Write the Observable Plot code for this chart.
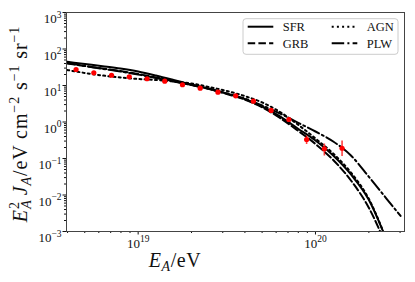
<!DOCTYPE html>
<html><head><meta charset="utf-8">
<script src="https://cdn.jsdelivr.net/npm/d3@7"></script>
<script src="https://cdn.jsdelivr.net/npm/@observablehq/plot@0.6"></script>
<style>html,body{margin:0;padding:0;background:#fff;}</style>
</head><body><div id="chart"></div>
<script>
// ---- measured data (log10 of energy in eV) ----
const dataLogE = [18.65, 18.75, 18.85, 18.95, 19.05, 19.15, 19.25, 19.35, 19.45, 19.55, 19.65, 19.75, 19.85, 19.95, 20.05, 20.15];
const dataJ    = [27.4, 22.3, 19.1, 17.3, 15.3, 13.1, 10.5, 8.43, 6.55, 5.22, 3.72, 2.07, 1.17, 0.332, 0.185, 0.191];
const dataLo   = [27.4, 22.3, 19.1, 17.3, 15.3, 13.1, 10.5, 8.43, 6.55, 5.22, 3.72, 1.98, 1.06, 0.242, 0.117, 0.1135];
const dataHi   = [27.4, 22.3, 19.1, 17.3, 15.3, 13.1, 10.5, 8.43, 6.55, 5.22, 3.72, 2.17, 1.30, 0.413, 0.249, 0.301];

// ---- model curves ----
const sfrLogE = [18.6,18.7,18.8,18.9,19.0,19.1,19.2,19.3,19.4,19.5,19.6,19.7,19.8,19.9,20.0,20.1,20.2,20.3,20.4];
const sfrJ    = [44.6,38.8,33.8,29.2,24.2,18.8,14.2,10.6,8.28,6.04,4.27,2.66,1.42,0.664,0.311,0.121,0.0365,0.0075,0.0006];
const grbLogE = [18.6,18.7,18.8,18.9,19.0,19.1,19.2,19.3,19.4,19.5,19.6,19.7,19.8,19.9,20.0,20.1,20.2,20.3,20.4];
const grbJ    = [40,34.2,29.2,25,20.6,16.6,13.3,10.3,8.0,5.85,4.13,2.5,1.29,0.585,0.25,0.091,0.025,0.00455,0.0004];
const agnLogE = [18.6,18.7,18.8,18.9,19.0,19.1,19.2,19.3,19.4,19.5,19.6,19.7,19.8,19.9,20.0,20.1,20.2,20.3,20.4];
const agnJ    = [26.6,22,18.8,16.6,15.1,14.2,12.9,11.4,9.1,7.07,5.16,3.42,1.88,0.855,0.353,0.137,0.0413,0.008,0.0006];
const plwLogE = [18.6,18.7,18.8,18.9,19.0,19.1,19.2,19.3,19.4,19.5,19.6,19.7,19.8,19.9,20.0,20.1,20.2,20.3,20.4,20.48];
const plwJ    = [41.3,34.2,28.7,24.2,20,16,12.9,10.3,8.0,6.04,4.41,2.83,1.71,0.968,0.549,0.292,0.121,0.0321,0.00801,0.00266];

const seriesNames = ["SFR", "GRB", "AGN", "PLW"];
const seriesDash  = [null, "7.5,3.2", "2,3.2", "12.5,3.2,2,3.2"];

// ---- axis ticks ----
const yMajor = [1e-3, 1e-2, 1e-1, 1e0, 1e1, 1e2, 1e3];
const yTickLabels = ["10^\u22123", "10^\u22122", "10^\u22121", "10^0", "10^1", "10^2", "10^3"];
const xMajor = [1e19, 1e20];
const xTickLabels = ["10^19", "10^20"];
const yMinor = [];
for (let k = -3; k < 3; k++) for (let m = 2; m <= 9; m++) yMinor.push(m * 10 ** k);
const xMinor = [4e18,5e18,6e18,7e18,8e18,9e18,2e19,3e19,4e19,5e19,6e19,7e19,8e19,9e19,2e20,3e20];

const SERIF = "'Liberation Serif', 'Times New Roman', serif";

const toRows = (logE, J) => logE.map((l, i) => ({E: 10 ** l, J: J[i]}));
const curves = [toRows(sfrLogE, sfrJ), toRows(grbLogE, grbJ), toRows(agnLogE, agnJ), toRows(plwLogE, plwJ)];
const points = dataLogE.map((l, i) => ({E: 10 ** l, J: dataJ[i], lo: dataLo[i], hi: dataHi[i]}));

const chart = Plot.plot({
  width: 415, height: 282,
  marginLeft: 66, marginRight: 11, marginTop: 12, marginBottom: 51,
  style: {fontFamily: SERIF, fontSize: "13px", color: "#111", background: "#fff"},
  x: {type: "log", domain: [10 ** 18.596, 10 ** 20.502]},
  y: {type: "log", domain: [1e-3, 1e3]},
  marks: [
    Plot.axisY({ticks: yMinor, tickSize: 2, tickFormat: () => "", fill: "none", label: null}),
    Plot.axisY({ticks: yMajor, tickSize: 3.5, tickPadding: 1.5, tickFormat: d => yTickLabels[yMajor.indexOf(d)], label: null}),
    Plot.axisX({ticks: xMinor, tickSize: 2, tickFormat: () => "", fill: "none", label: null}),
    Plot.axisX({ticks: xMajor, tickSize: 3.5, tickPadding: 3.3, tickFormat: d => xTickLabels[xMajor.indexOf(d)], label: null}),
    ...curves.map((c, i) => Plot.line(c, {x: "E", y: "J", stroke: "black", strokeWidth: 2, strokeDasharray: seriesDash[i], curve: "monotone-x", clip: true})),
    Plot.ruleX(points, {x: "E", y1: "lo", y2: "hi", stroke: "red", strokeOpacity: 0.75, strokeWidth: 1.6}),
    Plot.dot(points, {x: "E", y: "J", r: 2.6, fill: "red", stroke: "none"}),
    Plot.frame({stroke: "#444", strokeWidth: 1})
  ]
});
document.getElementById("chart").appendChild(chart);

const svg = d3.select(chart);
// superscript tick labels
svg.selectAll("text").each(function () {
  const t = d3.select(this);
  const s = t.text();
  const m = s.match(/^10\^(.*)$/);
  if (!m) return;
  t.text(null);
  t.append("tspan").text("10");
  t.append("tspan").attr("dy", "-5.5").attr("font-size", "9.5px").text(m[1]);
});
svg.selectAll('g[aria-label="y-axis tick label"] text').attr("dy", "0.52em");

// axis labels
const xl = svg.append("text").attr("x", 175).attr("y", 267).attr("text-anchor", "middle")
  .attr("font-family", SERIF).attr("font-size", "20px").attr("fill", "#111").attr("letter-spacing", "0.6px");
xl.append("tspan").attr("font-style", "italic").text("E");
xl.append("tspan").attr("font-style", "italic").attr("font-size", "14px").attr("dy", "4").text("A");
xl.append("tspan").attr("dy", "-4").text("/eV");

const yl = svg.append("text").attr("transform", "translate(27,124) rotate(-90)").attr("text-anchor", "middle")
  .attr("font-family", SERIF).attr("font-size", "20px").attr("fill", "#111").attr("letter-spacing", "0.9px");
yl.append("tspan").attr("font-style", "italic").text("E");
yl.append("tspan").attr("font-size", "14px").attr("dy", "-8").text("2");
yl.append("tspan").attr("font-style", "italic").attr("font-size", "14px").attr("dx", "-7.5").attr("dy", "12").text("A");
yl.append("tspan").attr("font-style", "italic").attr("dx", "4").attr("dy", "-4").text("J");
yl.append("tspan").attr("font-style", "italic").attr("font-size", "14px").attr("dy", "4").text("A");
yl.append("tspan").attr("dy", "-4").text("/eV cm");
yl.append("tspan").attr("font-size", "14px").attr("dy", "-8").text("\u22122");
yl.append("tspan").attr("dy", "8").text(" s");
yl.append("tspan").attr("font-size", "14px").attr("dy", "-8").text("\u22121");
yl.append("tspan").attr("dy", "8").text(" sr");
yl.append("tspan").attr("font-size", "14px").attr("dy", "-8").text("\u22121");

// legend
const lg = svg.append("g").attr("transform", "translate(243,18.7)");
lg.append("rect").attr("width", 155).attr("height", 35.6).attr("rx", 3)
  .attr("fill", "#fff").attr("fill-opacity", 0.8).attr("stroke", "#ccc").attr("stroke-width", 1);
const lx = [4.7, 88.7], ly = [8, 24.6];
seriesNames.forEach((name, i) => {
  const col = Math.floor(i / 2), row = i % 2;
  const g = lg.append("g").attr("transform", `translate(${lx[col]},${ly[row]})`);
  g.append("line").attr("x1", 0).attr("x2", 25.6).attr("y1", 0).attr("y2", 0)
    .attr("stroke", "black").attr("stroke-width", 2).attr("stroke-dasharray", seriesDash[i]);
  g.append("text").attr("x", 35).attr("y", 4.3).attr("text-anchor", "start").attr("font-family", SERIF).attr("font-size", "12.5px")
    .attr("fill", "#111").text(name);
});
</script>
</body></html>
